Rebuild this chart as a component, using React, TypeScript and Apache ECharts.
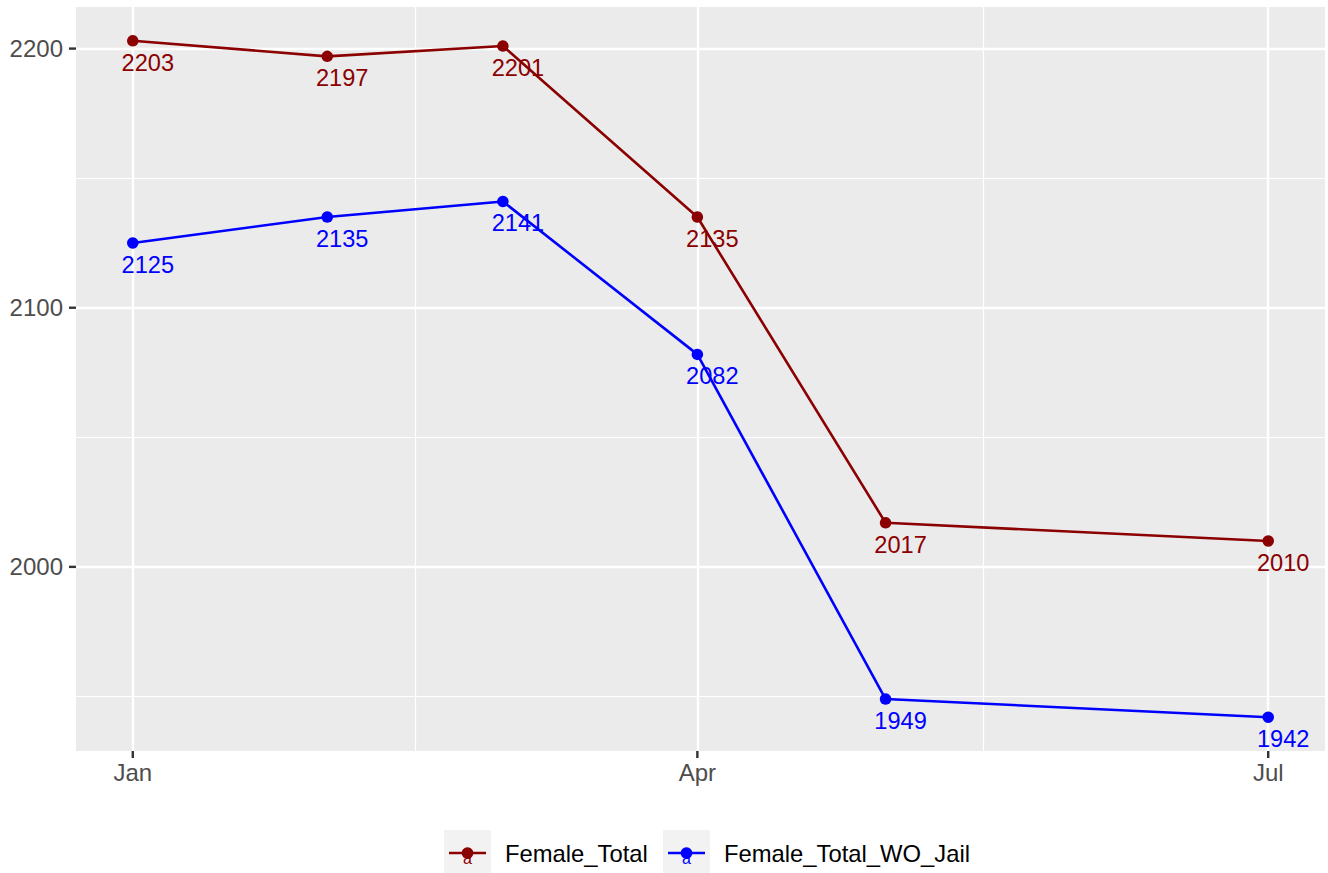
import React, { useEffect, useRef } from 'react';
import * as echarts from 'echarts';

// ---- data ----
const dates = ['2019-01-01', '2019-02-01', '2019-03-01', '2019-04-01', '2019-05-01', '2019-07-01'];
const femaleTotal = [2203, 2197, 2201, 2135, 2017, 2010];
const femaleTotalWOJail = [2125, 2135, 2141, 2082, 1949, 1942];
const seriesNames = ['Female_Total', 'Female_Total_WO_Jail'];
const seriesColors = ['#8B0000', '#0000FF'];
const xTickDates = ['2019-01-01', '2019-04-01', '2019-07-01'];
const xTickLabels = ['Jan', 'Apr', 'Jul'];
const yTicks = [2000, 2100, 2200];
const yMinorTicks = [1950, 2050, 2150];

const FONT = '"Liberation Sans", Arial, Helvetica, sans-serif';
const DAY = 86400000;
const origin = Date.parse(dates[0]);
const toDay = (s: string) => (Date.parse(s) - origin) / DAY;

const xDays = dates.map(toDay);
const xTickDays = xTickDates.map(toDay);
const xMinorDays = xTickDays.slice(1).map((d, i) => (d + xTickDays[i]) / 2);

const allY = [...femaleTotal, ...femaleTotalWOJail];
const yLo = Math.min(...allY);
const yHi = Math.max(...allY);
const yPad = (yHi - yLo) * 0.05;
const xLo = Math.min(...xDays);
const xHi = Math.max(...xDays);
const xPad = (xHi - xLo) * 0.05;

export default function App() {
  const ref = useRef<HTMLDivElement>(null);
  useEffect(() => {
    if (!ref.current) return;
    const chart = echarts.init(ref.current, null, { renderer: 'svg' });
    const values = [femaleTotal, femaleTotalWOJail];
    const xMin = xLo - xPad;
    const xMax = xHi + xPad;
    const yMin = yLo - yPad;
    const yMax = yHi + yPad;
    const TICK_LEN = 7;
    const TICK_STYLE = { stroke: '#333333', lineWidth: 2.4 };

    const legendX = [444, 663];
    const legendW = [47, 47];
    const graphics: any[] = [];
    seriesNames.forEach((name, i) => {
      const x0 = legendX[i];
      const cx = x0 + legendW[i] / 2;
      graphics.push(
        { type: 'rect', shape: { x: x0, y: 830, width: legendW[i], height: 44 }, style: { fill: '#F2F2F2' }, silent: true },
        { type: 'line', shape: { x1: x0 + 5, y1: 853, x2: x0 + legendW[i] - 5, y2: 853 }, style: { stroke: seriesColors[i], lineWidth: 2.6 }, silent: true },
        { type: 'circle', shape: { cx, cy: 853, r: 5.8 }, style: { fill: seriesColors[i] }, silent: true },
        { type: 'text', x: cx, y: 858, style: { text: 'a', fill: seriesColors[i], font: '16px "Liberation Sans", Arial, sans-serif', align: 'center', verticalAlign: 'middle' }, silent: true },
        { type: 'text', x: x0 + legendW[i] + 14, y: 853, style: { text: name, fill: '#000000', font: '23.8px "Liberation Sans", Arial, sans-serif', align: 'left', verticalAlign: 'middle' }, silent: true }
      );
    });

    const baseX = { type: 'value', min: xMin, max: xMax, gridIndex: 0 };
    const baseY = { type: 'value', min: yMin, max: yMax, gridIndex: 0 };

    const tickSeries = (data: number[][], dir: 'x' | 'y') => ({
      type: 'custom',
      coordinateSystem: 'cartesian2d',
      xAxisIndex: 0,
      yAxisIndex: 0,
      silent: true,
      clip: false,
      z: 10,
      data,
      renderItem: (_params: any, api: any) => {
        const p = api.coord([api.value(0), api.value(1)]);
        const shape = dir === 'y'
          ? { x1: p[0] - TICK_LEN, y1: p[1], x2: p[0], y2: p[1] }
          : { x1: p[0], y1: p[1], x2: p[0], y2: p[1] + TICK_LEN };
        return { type: 'line', shape, style: TICK_STYLE };
      },
    });

    chart.setOption({
      animation: false,
      backgroundColor: '#FFFFFF',
      grid: {
        left: 76,
        right: 3,
        top: 7,
        bottom: 122,
        show: true,
        backgroundColor: '#EBEBEB',
        borderWidth: 0,
        containLabel: false,
        outerBoundsMode: 'none',
      },
      xAxis: [
        {
          ...baseX,
          position: 'bottom',
          axisLine: { show: false, onZero: false },
          axisTick: { show: false, customValues: xTickDays },
          axisLabel: {
            show: true,
            customValues: xTickDays,
            margin: 9,
            color: '#4D4D4D',
            fontSize: 24,
            fontFamily: FONT,
            formatter: (v: number) => {
              let best = 0;
              xTickDays.forEach((d, i) => { if (Math.abs(d - v) < Math.abs(xTickDays[best] - v)) best = i; });
              return xTickLabels[best];
            },
          },
          splitLine: { show: true, lineStyle: { color: '#FFFFFF', width: 2.4 } },
        },
        {
          ...baseX,
          position: 'top',
          axisLine: { show: false, onZero: false },
          axisTick: { show: false, customValues: xMinorDays },
          axisLabel: { show: false, customValues: xMinorDays },
          splitLine: { show: true, lineStyle: { color: '#FFFFFF', width: 1.2 } },
        },
      ],
      yAxis: [
        {
          ...baseY,
          position: 'left',
          axisLine: { show: false, onZero: false },
          axisTick: { show: false, customValues: yTicks },
          axisLabel: {
            show: true,
            customValues: yTicks,
            margin: 13,
            color: '#4D4D4D',
            fontSize: 24,
            fontFamily: FONT,
            formatter: (v: number) => String(v),
          },
          splitLine: { show: true, lineStyle: { color: '#FFFFFF', width: 2.4 } },
        },
        {
          ...baseY,
          position: 'right',
          axisLine: { show: false, onZero: false },
          axisTick: { show: false, customValues: yMinorTicks },
          axisLabel: { show: false, customValues: yMinorTicks },
          splitLine: { show: true, lineStyle: { color: '#FFFFFF', width: 1.2 } },
        },
      ],
      graphic: graphics,
      series: [
        ...seriesNames.map((name, i) => ({
          name,
          type: 'line',
          xAxisIndex: 0,
          yAxisIndex: 0,
          data: xDays.map((d, j) => [d, values[i][j]]),
          color: seriesColors[i],
          lineStyle: { color: seriesColors[i], width: 2.6 },
          itemStyle: { color: seriesColors[i] },
          symbol: 'circle',
          symbolSize: 11.5,
          showSymbol: true,
          label: {
            show: true,
            position: 'bottom',
            distance: 4,
            offset: [15, 0],
            color: seriesColors[i],
            fontSize: 23.6,
            fontFamily: FONT,
            formatter: (p: any) => String(p.value[1]),
          },
          emphasis: { disabled: true },
        })),
        tickSeries(yTicks.map((v) => [xMin, v]), 'y'),
        tickSeries(xTickDays.map((d) => [d, yMin]), 'x'),
      ],
    });

    return () => chart.dispose();
  }, []);

  return (
    <div
      ref={ref}
      style={{ position: 'fixed', left: 0, top: 0, width: 1328, height: 873 }}
    />
  );
}
